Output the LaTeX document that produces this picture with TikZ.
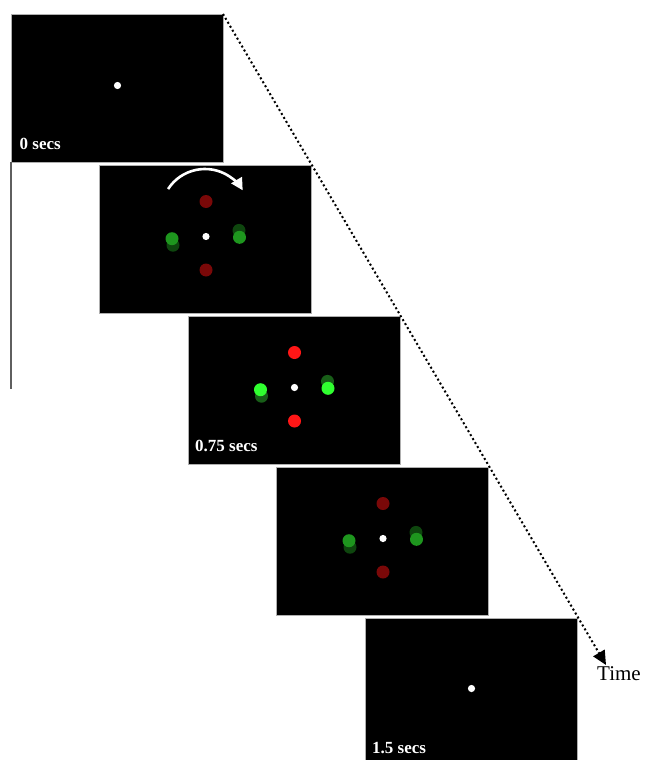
\documentclass[tikz,border=0pt]{standalone}
\usepackage{fontspec}
\setmainfont{Liberation Serif}
\usetikzlibrary{arrows.meta}

\definecolor{dimred}{RGB}{122,8,8}
\definecolor{brightred}{RGB}{255,22,22}
\definecolor{dimgreen}{RGB}{30,150,30}
\definecolor{dimgreenshade}{RGB}{14,70,14}
\definecolor{brightgreen}{RGB}{48,255,48}
\definecolor{brightgreenshade}{RGB}{24,94,24}
\definecolor{screenframe}{RGB}{175,175,175}
\definecolor{axisgray}{RGB}{95,95,95}

% four coloured discs round the fixation point, drawn in a panel's own frame
\newcommand\discring[4]{%
  \begin{scope}[shift={(#1.north west)}]
    \fill[#4] (73.5,80.2) circle (6.5);
    \fill[#3] (72.5,73.7) circle (6.5);
    \fill[#4] (139.5,65.4) circle (6.5);
    \fill[#3] (140,72.3) circle (6.5);
    \fill[#2] (106.5,36.5) circle (6.5);
    \fill[#2] (106.5,105) circle (6.5);
    \fill[white] (106.5,71.5) circle (3.6);
  \end{scope}}

\begin{document}
\begin{tikzpicture}[x=1pt,y=-1pt,
  screen/.style={draw=screenframe, line width=0.9pt, fill=black,
    minimum width=212pt, minimum height=148pt, inner sep=0pt,
    outer sep=0pt, anchor=north west},
  stamp/.style={text=white, font=\bfseries\fontsize{17}{19}\selectfont,
    anchor=base west, inner sep=0pt},
  timeline/.style={line width=2pt, dash pattern=on 2pt off 2.6pt,
    -{Triangle[length=14pt,width=13pt]}},
]
\clip (0,0) rectangle (645,760);
\fill[white] (0,0) rectangle (645,760);

% left axis line
\coordinate (axisend) at (11,389);

% the five screens
\node[screen] (p0) at (11,14) {};
\node[screen] (p1) at (99.5,165) {};
\node[screen] (p2) at (188,316) {};
\node[screen] (p3) at (276.5,467) {};
\node[screen] (p4) at (365,618) {};

\draw[axisgray, line width=1.4pt] (p0.south west) -- (axisend);

% fixation-only screens
\fill[white] ([shift={(106.5,71.5)}]p0.north west) circle (3.6);
\fill[white] ([shift={(106.5,70.5)}]p4.north west) circle (3.6);

% disc screens
\discring{p1}{dimred}{dimgreen}{dimgreenshade}
\discring{p2}{brightred}{brightgreen}{brightgreenshade}
\discring{p3}{dimred}{dimgreen}{dimgreenshade}

% rotation arrow
\coordinate (pivot) at ([shift={(105.5,48)}]p1.north west);
\draw[white, line width=2.6pt, -{Triangle[length=12pt,width=12pt]}]
  (pivot) ++(147:44pt) arc[start angle=147, end angle=31, radius=44pt];

% time stamps
\node[stamp] (t0) at ([shift={(8.5,135)}]p0.north west) {0 secs};
\node[stamp] (t2) at ([shift={(7,135.5)}]p2.north west) {0.75 secs};
\node[stamp] (t4) at ([shift={(7,135)}]p4.north west) {1.5 secs};

% time axis
\coordinate (timeend) at (606,665);
\draw[timeline] (p0.north east) -- (timeend);
\node[anchor=base west, inner sep=0pt, font=\fontsize{21}{24}\selectfont]
  (timelabel) at (597,680) {Time};
\end{tikzpicture}
\end{document}
